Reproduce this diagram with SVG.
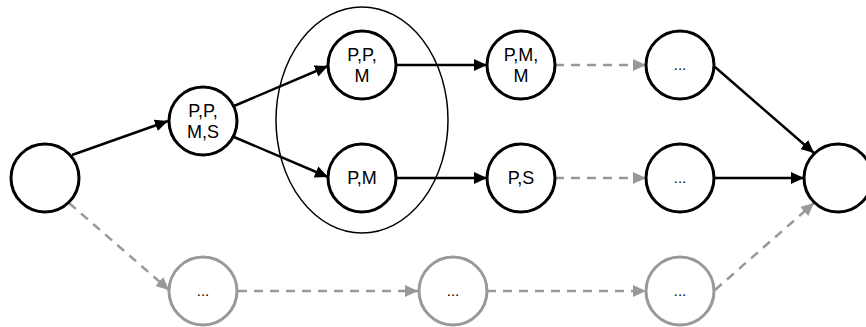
<svg xmlns="http://www.w3.org/2000/svg" width="866" height="327" viewBox="0 0 866 327">
<style>
.n{fill:#fff;stroke:#000;stroke-width:3}
.g{fill:#fff;stroke:#999;stroke-width:3}
.t{font-family:"Liberation Sans",Arial,sans-serif;font-size:18px;fill:#000;text-anchor:middle}
.s{font-family:"Liberation Sans",Arial,sans-serif;font-size:15px;fill:#000;text-anchor:middle}
.e{fill:none;stroke:#000;stroke-width:2.5}
.d{fill:none;stroke:#999;stroke-width:2.5;stroke-dasharray:9,7}
</style>
<defs>
<marker id="ab" markerUnits="userSpaceOnUse" markerWidth="14" markerHeight="12" refX="13" refY="6" orient="auto"><path d="M0,0 L13,6 L0,12 Z" fill="#000"/></marker>
<marker id="ag" markerUnits="userSpaceOnUse" markerWidth="14" markerHeight="12" refX="13" refY="6" orient="auto"><path d="M0,0 L13,6 L0,12 Z" fill="#999"/></marker>
</defs>
<ellipse cx="362" cy="120" rx="86" ry="113" fill="none" stroke="#000" stroke-width="1.5"/>
<g id="connectors">
<line class="e" x1="72" y1="155" x2="168" y2="121" marker-end="url(#ab)"/>
<line class="e" x1="234" y1="106" x2="328" y2="66" marker-end="url(#ab)"/>
<line class="e" x1="234" y1="137" x2="328" y2="177" marker-end="url(#ab)"/>
<line class="e" x1="397" y1="65" x2="487" y2="65" marker-end="url(#ab)"/>
<line class="e" x1="397" y1="178" x2="487" y2="178" marker-end="url(#ab)"/>
<line class="d" x1="555" y1="65" x2="646" y2="65" marker-end="url(#ag)"/>
<line class="d" x1="555" y1="178" x2="646" y2="178" marker-end="url(#ag)"/>
<line class="e" x1="715" y1="67" x2="814" y2="153" marker-end="url(#ab)"/>
<line class="e" x1="715" y1="178" x2="804" y2="178" marker-end="url(#ab)"/>
<line class="d" x1="715" y1="290" x2="814" y2="203" marker-end="url(#ag)"/>
<line class="d" x1="69" y1="203" x2="169" y2="290" marker-end="url(#ag)"/>
<line class="d" x1="238" y1="291" x2="418" y2="291" marker-end="url(#ag)"/>
<line class="d" x1="487" y1="291" x2="646" y2="291" marker-end="url(#ag)"/>
</g>
<g id="start"><circle class="n" cx="45" cy="178" r="34"/></g>
<g id="ppms"><circle class="n" cx="203" cy="121" r="34"/><text class="t" x="203" y="117">P,P,</text><text class="t" x="203" y="138">M,S</text></g>
<g id="ppm"><circle class="n" cx="362" cy="65" r="34"/><text class="t" x="362" y="61">P,P,</text><text class="t" x="362" y="82">M</text></g>
<g id="pm"><circle class="n" cx="362" cy="178" r="34"/><text class="t" x="362" y="184">P,M</text></g>
<g id="pmm"><circle class="n" cx="521" cy="65" r="34"/><text class="t" x="521" y="61">P,M,</text><text class="t" x="521" y="82">M</text></g>
<g id="ps"><circle class="n" cx="521" cy="178" r="34"/><text class="t" x="521" y="184">P,S</text></g>
<g id="dots1"><circle class="n" cx="680" cy="65" r="34"/><text class="s" x="680" y="70">...</text></g>
<g id="dots2"><circle class="n" cx="680" cy="178" r="34"/><text class="s" x="680" y="183">...</text></g>
<g id="end"><circle class="n" cx="838" cy="178" r="34"/></g>
<g id="dots3"><circle class="g" cx="203" cy="291" r="34"/><text class="s" x="203" y="296">...</text></g>
<g id="dots4"><circle class="g" cx="453" cy="291" r="34"/><text class="s" x="453" y="296">...</text></g>
<g id="dots5"><circle class="g" cx="680" cy="291" r="34"/><text class="s" x="680" y="296">...</text></g>
</svg>
